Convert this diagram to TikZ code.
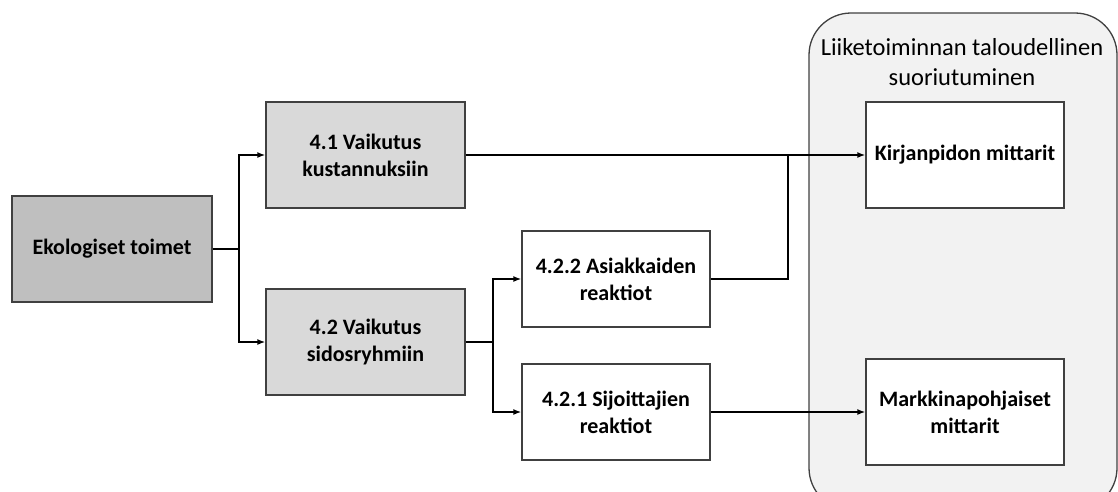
\documentclass[tikz,border=0pt]{standalone}
\usepackage{fontspec}
\setmainfont{Carlito}
\usetikzlibrary{arrows.meta}
\definecolor{darkfill}{HTML}{BFBFBF}
\definecolor{lightfill}{HTML}{D9D9D9}
\definecolor{panelfill}{HTML}{F2F2F2}
\definecolor{edgegray}{HTML}{404040}
\tikzset{
  box/.style={draw=edgegray, line width=1.3pt, rectangle, align=center,
    font=\fontsize{22}{27}\selectfont\bfseries, inner sep=0pt},
  arr/.style={-{Latex[length=8pt,width=6pt]}, line width=1.6pt, black},
  conn/.style={line width=1.6pt, black},
}
\begin{document}
\begin{tikzpicture}[x=1pt,y=-1pt]
\useasboundingbox (0,0) rectangle (1118,491);
\begin{scope}
\clip (0,0) rectangle (1118,491);
\draw[draw=edgegray, fill=panelfill, line width=1.3pt, rounded corners=42pt]
  (809,13) rectangle (1117,510);
\end{scope}
\node[font=\fontsize{24.5}{30}\selectfont, align=center] (title) at (962,62)
  {Liiketoiminnan taloudellinen\\suoriutuminen};

\node[box, fill=darkfill, minimum width=200pt, minimum height=106pt] (eko) at (112,249) {Ekologiset toimet};
\node[box, fill=lightfill, minimum width=199pt, minimum height=106pt] (v41) at (365.5,155) {4.1 Vaikutus\\kustannuksiin};
\node[box, fill=lightfill, minimum width=199pt, minimum height=106pt] (v42) at (365.5,342) {4.2 Vaikutus\\sidosryhmiin};
\node[box, fill=white, minimum width=188pt, minimum height=96pt] (a422) at (616,279) {4.2.2 Asiakkaiden\\reaktiot};
\node[box, fill=white, minimum width=188pt, minimum height=96pt] (s421) at (616,412) {4.2.1 Sijoittajien\\reaktiot};
\node[box, fill=white, minimum width=198pt, minimum height=106pt] (kir) at (965,155) {Kirjanpidon mittarit};
\node[box, fill=white, minimum width=198pt, minimum height=106pt] (mar) at (965,412) {Markkinapohjaiset\\mittarit};

\coordinate (j1) at (239,249);
\coordinate (j2) at (493,342);
\coordinate (j3) at (788,155);

\draw[conn] (eko.east) -- (j1);
\draw[arr] (j1) |- (v41.west);
\draw[arr] (j1) |- (v42.west);
\draw[conn] (v42.east) -- (j2);
\draw[arr] (j2) |- (a422.west);
\draw[arr] (j2) |- (s421.west);
\draw[arr] (v41.east) -- (kir.west);
\draw[conn] (a422.east) -| (j3);
\draw[arr] (s421.east) -- (mar.west);
\end{tikzpicture}
\end{document}
